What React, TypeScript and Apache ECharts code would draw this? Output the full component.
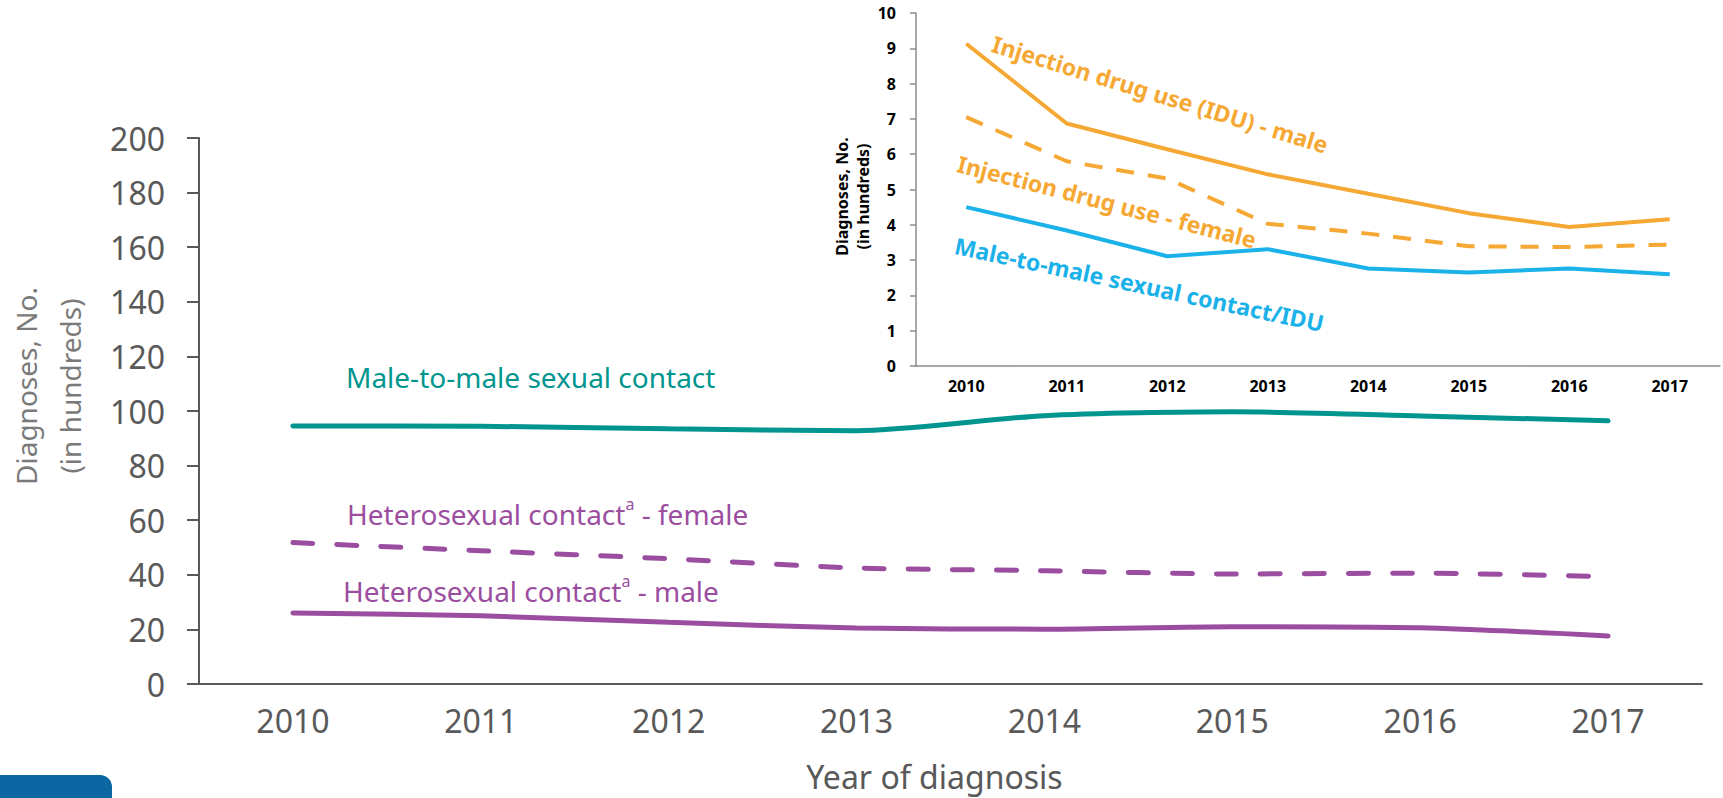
import React, { useEffect, useRef } from "react";
import * as echarts from "echarts";

const years = ["2010", "2011", "2012", "2013", "2014", "2015", "2016", "2017"];
const maleToMale = [94.5, 94.4, 93.5, 92.8, 98.3, 99.7, 98.2, 96.4];
const heteroFemale = [51.8, 48.8, 45.9, 42.5, 41.5, 40.3, 40.6, 39.3];
const heteroMale = [26.0, 25.0, 22.6, 20.5, 20.1, 21.0, 20.6, 17.6];
const iduMale = [9.13, 6.87, 6.14, 5.43, 4.88, 4.33, 3.94, 4.16];
const iduFemale = [7.05, 5.8, 5.31, 4.03, 3.75, 3.39, 3.37, 3.44];
const msmIdu = [4.5, 3.84, 3.11, 3.31, 2.76, 2.65, 2.76, 2.6];

const TEAL = "#00968F";
const PURPLE = "#9B4E9F";
const ORANGE = "#F5A833";
const BLUE = "#1BB2EA";
const GRAY = "#595959";
const FONT = "'Noto Sans', 'Open Sans', sans-serif";

export default function App() {
  const ref = useRef<HTMLDivElement>(null);
  useEffect(() => {
    document.body.style.margin = "0";
    const chart = echarts.init(ref.current!, null, { renderer: "svg" });
    const deg = Math.PI / 180;
    const sup = (rest: string) => ({
      text: `{t|Heterosexual contact}{s|a}{t|${rest}}`,
      textAlign: "left",
      textVerticalAlign: "middle",
      rich: {
        t: { fontSize: 28, fill: PURPLE, fontFamily: FONT, lineHeight: 36 },
        s: { fontSize: 16, fill: PURPLE, fontFamily: FONT, lineHeight: 36, verticalAlign: "top", padding: [0, 0, 12, 0] },
      },
    });
    chart.setOption({
      animation: false,
      backgroundColor: "#ffffff",
      textStyle: { fontFamily: FONT },
      grid: [
        { left: 199, right: 21, top: 138, bottom: 114, outerBoundsMode: "none", containLabel: false },
        { left: 916, right: 3, top: 13, bottom: 432, outerBoundsMode: "none", containLabel: false },
      ],
      xAxis: [
        {
          type: "category",
          gridIndex: 0,
          data: years,
          boundaryGap: true,
          axisLine: { lineStyle: { color: GRAY, width: 2 } },
          axisTick: { length: 13, lineStyle: { color: GRAY, width: 2 } },
          axisLabel: { fontSize: 32, color: GRAY, margin: 20, fontFamily: FONT },
          name: "Year of diagnosis",
          nameLocation: "middle",
          nameGap: 76,
          nameTextStyle: { fontSize: 32, color: GRAY, fontFamily: FONT, padding: [0, 32, 0, 0] },
        },
        {
          type: "category",
          gridIndex: 1,
          data: years,
          boundaryGap: true,
          axisLine: { lineStyle: { color: "#8c8c8c", width: 1.5 } },
          axisTick: { length: 7, lineStyle: { color: "#8c8c8c", width: 1.5 } },
          axisLabel: { fontSize: 16, fontWeight: "bold", color: "#000", margin: 12, fontFamily: FONT },
        },
      ],
      yAxis: [
        {
          type: "value",
          gridIndex: 0,
          min: 0,
          max: 200,
          interval: 20,
          splitLine: { show: false },
          axisLine: { show: true, lineStyle: { color: GRAY, width: 2 } },
          axisTick: { show: true, length: 12, lineStyle: { color: GRAY, width: 2 } },
          axisLabel: { fontSize: 32, color: GRAY, margin: 34, fontFamily: FONT },
          name: "Diagnoses, No.\n(in hundreds)",
          nameLocation: "middle",
          nameGap: 107,
          nameRotate: 90,
          nameTextStyle: { fontSize: 28, color: "#7a7a7a", lineHeight: 44, fontFamily: FONT, padding: [0, 0, 0, 50] },
        },
        {
          type: "value",
          gridIndex: 1,
          min: 0,
          max: 10,
          interval: 1,
          splitLine: { show: false },
          axisLine: { show: true, lineStyle: { color: "#8c8c8c", width: 1.5 } },
          axisTick: { show: true, length: 6, lineStyle: { color: "#8c8c8c", width: 1.5 } },
          axisLabel: { fontSize: 16, fontWeight: "bold", color: "#000", margin: 20, fontFamily: FONT },
          name: "Diagnoses, No.\n(in hundreds)",
          nameLocation: "middle",
          nameGap: 42,
          nameRotate: 90,
          nameTextStyle: { fontSize: 16, fontWeight: "bold", color: "#000", lineHeight: 21, fontFamily: FONT, padding: [0, 14, 0, 0] },
        },
      ],
      series: [
        {
          name: "Male-to-male sexual contact",
          type: "line",
          xAxisIndex: 0,
          yAxisIndex: 0,
          data: maleToMale,
          smooth: 0.25,
          symbol: "none",
          lineStyle: { color: TEAL, width: 5, cap: "round" },
        },
        {
          name: "Heterosexual contact - female",
          type: "line",
          xAxisIndex: 0,
          yAxisIndex: 0,
          data: heteroFemale,
          smooth: 0.25,
          symbol: "none",
          lineStyle: { color: PURPLE, width: 5, type: [20, 24], cap: "round" },
        },
        {
          name: "Heterosexual contact - male",
          type: "line",
          xAxisIndex: 0,
          yAxisIndex: 0,
          data: heteroMale,
          smooth: 0.25,
          symbol: "none",
          lineStyle: { color: PURPLE, width: 5, cap: "round" },
        },
        {
          name: "Injection drug use (IDU) - male",
          type: "line",
          xAxisIndex: 1,
          yAxisIndex: 1,
          data: iduMale,
          symbol: "none",
          lineStyle: { color: ORANGE, width: 4 },
        },
        {
          name: "Injection drug use - female",
          type: "line",
          xAxisIndex: 1,
          yAxisIndex: 1,
          data: iduFemale,
          symbol: "none",
          lineStyle: { color: ORANGE, width: 4, type: [18, 14] },
        },
        {
          name: "Male-to-male sexual contact/IDU",
          type: "line",
          xAxisIndex: 1,
          yAxisIndex: 1,
          data: msmIdu,
          symbol: "none",
          lineStyle: { color: BLUE, width: 4 },
        },
      ],
      graphic: [
        {
          type: "text",
          x: 346,
          y: 377,
          style: { text: "Male-to-male sexual contact", fill: TEAL, font: `28px ${FONT}`, textAlign: "left", textVerticalAlign: "middle" },
        },
        { type: "text", x: 347, y: 514, style: sup(" - female") },
        { type: "text", x: 343, y: 591, style: sup(" - male") },
        {
          type: "text",
          x: 993,
          y: 43,
          rotation: -17 * deg,
          style: { text: "Injection drug use (IDU) - male", fill: ORANGE, font: `bold 23px ${FONT}`, textAlign: "left", textVerticalAlign: "middle" },
        },
        {
          type: "text",
          x: 958,
          y: 163,
          rotation: -14.5 * deg,
          style: { text: "Injection drug use - female", fill: ORANGE, font: `bold 23px ${FONT}`, textAlign: "left", textVerticalAlign: "middle" },
        },
        {
          type: "text",
          x: 955,
          y: 245,
          rotation: -12 * deg,
          style: { text: "Male-to-male sexual contact/IDU", fill: BLUE, font: `bold 23px ${FONT}`, textAlign: "left", textVerticalAlign: "middle" },
        },
        {
          type: "rect",
          shape: { x: -20, y: 775, width: 132, height: 40, r: 12 },
          style: { fill: "#0B66A1" },
        },
      ],
    });
    return () => chart.dispose();
  }, []);
  return <div ref={ref} style={{ width: 1723, height: 798 }} />;
}
